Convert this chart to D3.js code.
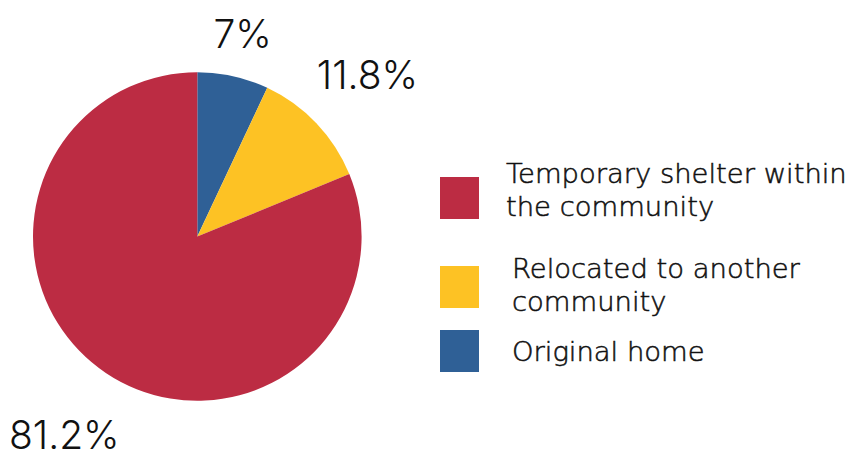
<!DOCTYPE html>
<html><head><meta charset="utf-8">
<script src="https://cdn.jsdelivr.net/npm/d3@7"></script>
<style>body{margin:0;background:#fff}svg{display:block}</style>
</head><body>
<script>
const categories = ["Original home", "Relocated to another community", "Temporary shelter within the community"];
const values = [7, 11.8, 81.2];
const labels = ["7%", "11.8%", "81.2%"];
const legendOrder = ["Temporary shelter within the community", "Relocated to another community", "Original home"];
const legendLines = [["Temporary shelter within", "the community"], ["Relocated to another", "community"], ["Original home"]];
const colors = ["#2F6096", "#FDC224", "#BC2C43"];

const W = 862, H = 459;
const cx = 197.3, cy = 236.5, R = 164.3;
const svg = d3.select("body").append("svg").attr("width", W).attr("height", H);
const color = d3.scaleOrdinal().domain(categories).range(colors);

const pie = d3.pie().sort(null).value(d => d.v);
const data = pie(categories.map((c, i) => ({c, v: values[i], l: labels[i]})));
const arc = d3.arc().innerRadius(0).outerRadius(R);
const g = svg.append("g").attr("transform", `translate(${cx},${cy})`);
g.selectAll("path").data(data).join("path").attr("d", arc).attr("fill", d => color(d.data.c));

// percentage labels placed outside the pie along each slice's mid-angle
const fsL = 39;
g.selectAll("text.lab").data(data).join("text").attr("class", "lab")
  .attr("font-family", "Inter, sans-serif").attr("font-weight", 300)
  .attr("font-size", fsL).attr("fill", "#111")
  .attr("text-anchor", "middle")
  .text(d => d.data.l)
  .each(function(d) {
    const w = this.getComputedTextLength(), h = fsL * 0.75;
    const a = (d.startAngle + d.endAngle) / 2;
    const gap = a > Math.PI ? 35 : 25;
    const ux = Math.sin(a), uy = -Math.cos(a);
    let dd = R;
    for (; dd < R + 200; dd += 0.5) {
      const px = dd * ux, py = dd * uy;
      const nx = Math.max(px - w / 2, Math.min(0, px + w / 2));
      const ny = Math.max(py - h / 2, Math.min(0, py + h / 2));
      if (Math.hypot(nx, ny) >= R + gap) break;
    }
    d3.select(this).attr("x", dd * ux).attr("y", dd * uy + h / 2);
  });

// legend
const textY = d3.scaleOrdinal().domain(legendOrder).range([183, 278, 361]);
const boxY = d3.scaleOrdinal().domain(legendOrder).range([177, 266, 330]);
const textX = d3.scaleOrdinal().domain(legendOrder).range([506, 512, 512]);
const leg = svg.append("g");
leg.selectAll("rect").data(legendOrder).join("rect")
  .attr("x", 440).attr("y", d => boxY(d)).attr("width", 39).attr("height", 42)
  .attr("fill", d => color(d));
leg.selectAll("text").data(legendOrder).join("text")
  .attr("font-family", "DejaVu Sans, sans-serif").attr("font-weight", 200)
  .attr("font-size", 27.4).attr("fill", "#111")
  .attr("stroke", "#111").attr("stroke-width", 0.55)
  .each(function(d, i) {
    d3.select(this).selectAll("tspan").data(legendLines[i]).join("tspan")
      .attr("x", textX(d)).attr("y", (t, j) => textY(d) + j * 33)
      .text(t => t);
  });
</script>
</body></html>
